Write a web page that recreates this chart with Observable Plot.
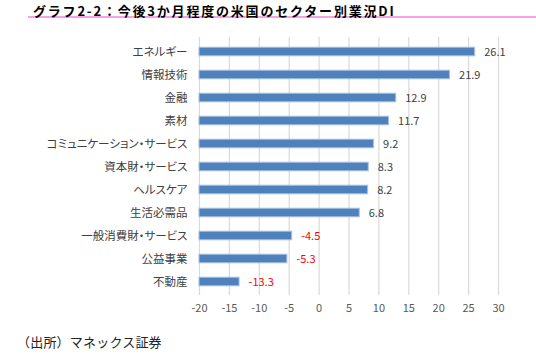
<!DOCTYPE html>
<html><head><meta charset="utf-8">
<script src="https://cdn.jsdelivr.net/npm/d3@7"></script>
<script src="https://cdn.jsdelivr.net/npm/@observablehq/plot@0.6"></script>
<style>
body{margin:0;background:#fff;font-family:"Noto Sans CJK JP",sans-serif;}
#wrap{position:relative;width:536px;height:360px;overflow:hidden;background:#fff;}
#title{position:absolute;left:28px;top:0;width:508px;height:18px;line-height:21px;padding-left:5px;box-sizing:border-box;border-bottom:2px solid #f9a0ec;font-weight:bold;font-size:13px;letter-spacing:1.8px;color:#000;white-space:nowrap;}
#chart{position:absolute;left:0;top:28px;}
#caption{position:absolute;left:17px;top:335px;font-size:13px;line-height:14px;color:#222;letter-spacing:0.2px;}
.yax text{font-feature-settings:"palt";font-size:11.5px;}
</style></head>
<body>
<div id="wrap">
<div id="title">グラフ2-2：今後3か月程度の米国のセクター別業況DI</div>
<div id="chart"></div>
<div id="caption">（出所）マネックス証券</div>
</div>
<script>
const categories = ["エネルギー","情報技術","金融","素材","コミュニケーション・サービス","資本財・サービス","ヘルスケア","生活必需品","一般消費財・サービス","公益事業","不動産"];
const values = [26.1,21.9,12.9,11.7,9.2,8.3,8.2,6.8,-4.5,-5.3,-13.3];
const xTicks = [-20,-15,-10,-5,0,5,10,15,20,25,30];
const axisMin = -20;
const axisMax = 30;
const data = categories.map((c,i)=>({category:c,value:values[i]}));

const chart = Plot.plot({
  width:536, height:300,
  marginLeft:199, marginRight:38, marginTop:9, marginBottom:33,
  style:{fontFamily:"'Noto Sans CJK JP',sans-serif", fontSize:"11px", color:"#404040", background:"white"},
  x:{domain:[axisMin,axisMax]},
  y:{domain:categories, padding:0},
  marks:[
    Plot.gridX(xTicks,{stroke:"#d9d9d9", strokeOpacity:1, strokeWidth:1.2}),
    Plot.barX(data,{x1:axisMin, x2:"value", y:"category", fill:"#4f81bd", stroke:"#a9c2e2", strokeWidth:1, insetTop:7.2, insetBottom:7.2}),
    Plot.text(data,{x:"value", y:"category", text:d=>d.value.toFixed(1), textAnchor:"start", dx:9, fontSize:11, fill:d=>d.value<0?"#ff0000":"#404040"}),
    Plot.axisX({ticks:xTicks, tickSize:0, tickPadding:9, label:null, fill:"#595959", tickFormat:d=>String(d)}),
    Plot.axisY({tickSize:0, tickPadding:12, label:null, fill:"#404040", className:"yax"})
  ]
});
document.getElementById("chart").appendChild(chart);
</script>
</body></html>
